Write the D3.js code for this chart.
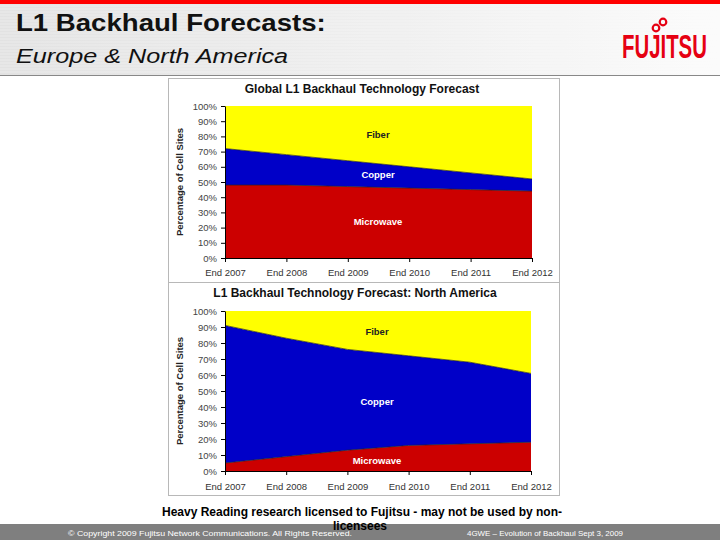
<!DOCTYPE html>
<html><head><meta charset="utf-8">
<script src="https://cdn.jsdelivr.net/npm/d3@7"></script>
<style>body{margin:0;background:#fff}svg{display:block}</style>
</head><body>
<script>
const years = ["End 2007","End 2008","End 2009","End 2010","End 2011","End 2012"];
const seriesNames = ["Microwave","Copper","Fiber"];
const globalMicrowave = [48,48,47,46,45,44];
const globalCopper = [24,20,17,14,11,8];
const globalFiber = [28,32,36,40,44,48];
const naMicrowave = [5,9,13,16,17,18];
const naCopper = [86,74,63,56,51,43];
const naFiber = [9,17,24,28,32,39];
const yTicks = [0,10,20,30,40,50,60,70,80,90,100];

const W=720,H=540;
const svg=d3.select("body").append("svg").attr("width",W).attr("height",H)
  .style("font-family","'Liberation Sans', Arial, sans-serif");
const defs=svg.append("defs");
const g1=defs.append("linearGradient").attr("id","hdr").attr("x1","0").attr("x2","1").attr("y1","0").attr("y2","0");
g1.append("stop").attr("offset","0").attr("stop-color","#e2e2e2");
g1.append("stop").attr("offset","0.6").attr("stop-color","#f0f0f0");
g1.append("stop").attr("offset","1").attr("stop-color","#fbfbfb");

// header
svg.append("rect").attr("x",0).attr("y",0).attr("width",W).attr("height",75).attr("fill","url(#hdr)");
for(let y=6;y<75;y+=3){svg.append("line").attr("x1",0).attr("x2",W).attr("y1",y).attr("y2",y).attr("stroke","#fff").attr("stroke-opacity",0.35);}
svg.append("rect").attr("x",0).attr("y",0).attr("width",W).attr("height",4).attr("fill","#ff0000");
svg.append("line").attr("x1",0).attr("x2",W).attr("y1",75.5).attr("y2",75.5).attr("stroke","#888");
svg.append("text").attr("transform","translate(16,31) scale(1.2,1)").attr("font-size",23).attr("font-weight","bold").attr("fill","#111")
  .text("L1 Backhaul Forecasts:");
svg.append("text").attr("transform","translate(16,63) scale(1.2,1)").attr("font-size",21).attr("font-style","italic").attr("fill","#111")
  .text("Europe & North America");
// logo
svg.append("text").attr("transform","translate(622,58) scale(0.6,1)").attr("font-size",34).attr("font-weight","bold")
  .attr("fill","#e60012").text("FUJITSU");
svg.append("circle").attr("cx",656).attr("cy",28).attr("r",3.3).attr("fill","none").attr("stroke","#e60012").attr("stroke-width",2.2);
svg.append("circle").attr("cx",663).attr("cy",22).attr("r",3.3).attr("fill","none").attr("stroke","#e60012").attr("stroke-width",2.2);

const colors={Microwave:"#cc0000",Copper:"#0000c8",Fiber:"#ffff00"};

function drawChart(cfg){
  const g=svg.append("g");
  g.append("rect").attr("x",cfg.box[0]+0.5).attr("y",cfg.box[1]+0.5).attr("width",cfg.box[2]).attr("height",cfg.box[3])
   .attr("fill","#fff").attr("stroke","#b8b8b8");
  const x=d3.scalePoint().domain(years).range([cfg.x0,cfg.x1]);
  const y=d3.scaleLinear().domain([0,100]).range([cfg.y1,cfg.y0]);
  const data=years.map((yr,i)=>({year:yr,Microwave:cfg.m[i],Copper:cfg.c[i],Fiber:cfg.f[i]}));
  const stack=d3.stack().keys(seriesNames)(data);
  const area=d3.area().x(d=>x(d.data.year)).y0(d=>y(d[0])).y1(d=>y(d[1]));
  g.selectAll("path.a").data(stack).join("path").attr("d",area).attr("fill",d=>colors[d.key]);
  const line=d3.line().x(d=>x(d.data.year)).y(d=>y(d[1]));
  g.selectAll("path.l").data(stack.slice(0,2)).join("path").attr("d",line).attr("fill","none").attr("stroke","#222").attr("stroke-width",1).attr("stroke-opacity",0.7);
  // axes
  const ya=g.append("g").attr("transform",`translate(${cfg.x0},0)`)
    .call(d3.axisLeft(y).tickValues(yTicks).tickFormat(d=>d+"%").tickSize(4).tickSizeOuter(0));
  ya.select(".domain").attr("stroke","#000");
  ya.selectAll("text").attr("font-size",cfg.fs).attr("fill","#444").attr("font-family","'Liberation Sans', Arial, sans-serif").attr("dx",-1);
  const xa=g.append("g").attr("transform",`translate(0,${cfg.y1})`)
    .call(d3.axisBottom(x).tickSize(4).tickSizeOuter(0).tickPadding(cfg.xpad));
  xa.select(".domain").attr("stroke","#000");
  xa.selectAll("text").attr("font-size",cfg.fs).attr("fill","#333").attr("font-family","'Liberation Sans', Arial, sans-serif");
  g.append("text").attr("x",cfg.tx).attr("y",cfg.ty).attr("text-anchor","middle").attr("font-size",cfg.tfs).attr("font-weight","bold").attr("fill","#111").text(cfg.title);
  g.append("text").attr("transform",`translate(183,${(cfg.y0+cfg.y1)/2}) rotate(-90)`).attr("text-anchor","middle")
    .attr("font-size",cfg.fs).attr("font-weight","bold").attr("fill","#222").text("Percentage of Cell Sites");
  cfg.labels.forEach(l=>{
    g.append("text").attr("x",l[1]).attr("y",l[2]).attr("text-anchor","middle").attr("font-size",cfg.fs).attr("font-weight","bold")
     .attr("fill",l[0]==="Fiber"?"#222":"#fff").text(l[0]);
  });
}

drawChart({box:[168,78,391,204],x0:225,x1:532,y0:106,y1:258,m:globalMicrowave,c:globalCopper,f:globalFiber,
  title:"Global L1 Backhaul Technology Forecast",tx:362,ty:93,tfs:12,fs:9.5,xpad:7,
  labels:[["Fiber",378,138],["Copper",378,178],["Microwave",378,225]]});
drawChart({box:[168,282,391,213],x0:225,x1:531,y0:311,y1:471,m:naMicrowave,c:naCopper,f:naFiber,
  title:"L1 Backhaul Technology Forecast: North America",tx:355,ty:297,tfs:12,fs:9.5,xpad:8,
  labels:[["Fiber",377,335],["Copper",377,405],["Microwave",377,464]]});

// footer
svg.append("rect").attr("x",0).attr("y",524).attr("width",W).attr("height",16).attr("fill","#7f7f7f");
svg.append("text").attr("x",68).attr("y",536).attr("font-size",7.5).attr("fill","#fff").attr("textLength",284).attr("lengthAdjust","spacingAndGlyphs")
  .text("© Copyright 2009 Fujitsu Network Communications. All Rights Reserved.");
svg.append("text").attr("x",467).attr("y",536).attr("font-size",7.5).attr("fill","#fff").attr("textLength",156).attr("lengthAdjust","spacingAndGlyphs")
  .text("4GWE – Evolution of Backhaul Sept 3, 2009");
svg.append("text").attr("x",362).attr("y",516).attr("text-anchor","middle").attr("font-size",12).attr("font-weight","bold").attr("fill","#000")
  .attr("textLength",400).attr("lengthAdjust","spacingAndGlyphs").text("Heavy Reading research licensed to Fujitsu - may not be used by non-");
svg.append("text").attr("x",360).attr("y",530).attr("text-anchor","middle").attr("font-size",12).attr("font-weight","bold").attr("fill","#000").text("licensees");
</script>
</body></html>
